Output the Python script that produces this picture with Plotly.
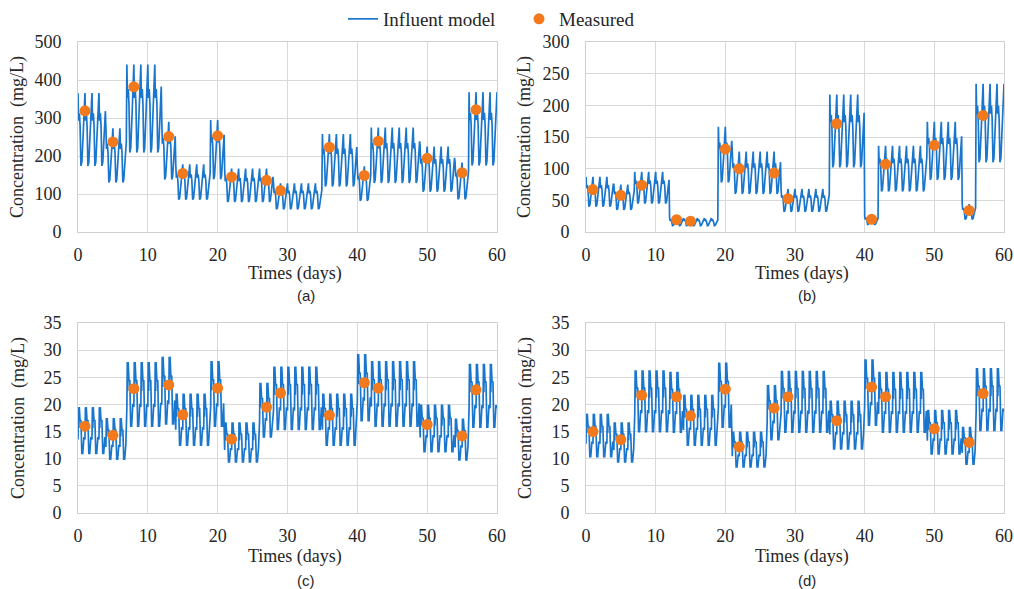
import plotly.graph_objects as go
from plotly.subplots import make_subplots

# ---------------- data ----------------
meas_days = [1, 5, 8, 13, 15, 20, 22, 27, 29, 36, 41, 43, 50, 55, 57]

meas_a = [319, 237, 382, 251, 154, 253, 145, 136, 109, 223, 149, 239, 194, 156, 322]
meas_b = [67, 58, 74, 19.5, 17, 131, 100, 93, 52.6, 171, 20, 107, 137, 34, 184]
meas_c = [16.0, 14.3, 22.9, 23.6, 18.1, 23.0, 13.6, 19.5, 22.1, 18.0, 24.0, 23.0, 16.3, 14.2, 22.7]
meas_d = [15.0, 13.5, 21.7, 21.4, 17.9, 22.8, 12.2, 19.3, 21.4, 17.0, 23.2, 21.4, 15.5, 13.0, 22.0]

# influent model: piecewise levels (segment start day, daily high, daily low)
seg_start_a = [0, 4, 7, 12, 14, 19, 21, 28, 35, 40, 42, 49, 54, 56]
seg_high_a = [366, 273, 441, 290, 178, 295, 167, 128, 258, 173, 275, 225, 183, 368]
seg_low_a = [174, 130, 209, 138, 85, 139, 79, 60, 120, 82, 129, 106, 86, 175]

seg_start_b = [0, 4, 7, 12, 19, 21, 28, 35, 40, 42, 49, 54, 56]
seg_high_b = [87, 75, 95, 22, 166, 127, 68, 217, 25, 136, 174, 44, 234]
seg_low_b = [40, 35, 45, 10, 78, 60, 32, 102, 12, 64, 82, 20, 110]

seg_start_c = [0, 4, 7, 12, 14, 19, 21, 26, 28, 35, 40, 42, 49, 54, 56]
seg_high_c = [19.5, 17.5, 27.8, 28.8, 22.0, 28.0, 16.7, 24.0, 27.0, 22.0, 29.3, 28.0, 20.0, 17.4, 27.5]
seg_low_c = [11.0, 9.9, 16.0, 16.4, 12.5, 16.0, 9.4, 14.0, 15.4, 12.5, 17.0, 16.0, 11.3, 9.8, 15.8]

seg_start_d = [0, 4, 7, 12, 14, 19, 21, 26, 28, 35, 40, 42, 49, 54, 56]
seg_high_d = [18.3, 16.7, 26.3, 26.0, 21.8, 27.7, 15.0, 23.6, 26.2, 20.7, 28.3, 26.0, 19.0, 15.9, 26.7]
seg_low_d = [10.4, 9.4, 15.0, 14.9, 12.5, 15.8, 8.5, 13.5, 14.9, 11.8, 16.2, 14.9, 10.9, 9.0, 15.2]

# diurnal shape of one day (fraction of day, fraction between low and high)
shape_t_ab = [0.0, 0.08, 0.2, 0.3, 0.42, 0.55, 0.75, 0.92]
shape_f_ab = [1.0, 0.62, 0.72, 0.55, 0.0, 0.05, 0.45, 0.75]
shape_t_cd = [0.0, 0.06, 0.12, 0.18, 0.3, 0.42, 0.55, 0.68, 0.85]
shape_f_cd = [0.3, 1.0, 0.55, 1.0, 0.7, 0.72, 0.0, 0.0, 0.35]

N_DAYS = 60


def build_line(starts, highs, lows, st, sf):
    xs, ys = [], []
    for day in range(N_DAYS):
        k = max(i for i, s in enumerate(starts) if s <= day)
        lo, hi = lows[k], highs[k]
        for t, f in zip(st, sf):
            xs.append(day + t)
            ys.append(lo + f * (hi - lo))
    k = len(starts) - 1
    xs.append(N_DAYS)
    ys.append(lows[k] + sf[0] * (highs[k] - lows[k]))
    return xs, ys


panels = [
    (seg_start_a, seg_high_a, seg_low_a, shape_t_ab, shape_f_ab, meas_a, 1, 1, [0, 500], 100),
    (seg_start_b, seg_high_b, seg_low_b, shape_t_ab, shape_f_ab, meas_b, 1, 2, [0, 300], 50),
    (seg_start_c, seg_high_c, seg_low_c, shape_t_cd, shape_f_cd, meas_c, 2, 1, [0, 35], 5),
    (seg_start_d, seg_high_d, seg_low_d, shape_t_cd, shape_f_cd, meas_d, 2, 2, [0, 35], 5),
]

BLUE = "#1a76cc"
ORANGE = "#f27a1c"
SERIF = "Liberation Serif, Times New Roman, serif"
TXT = "#262626"

W, H = 1014, 589


def px(x):
    return x / W


def py(y):
    return 1 - y / H


fig = make_subplots(rows=2, cols=2)

for i, (st, hi, lo, tt, ff, meas, r, c, yr, dt) in enumerate(panels):
    xs, ys = build_line(st, hi, lo, tt, ff)
    fig.add_trace(go.Scatter(x=xs, y=ys, mode="lines", name="Influent model",
                             line=dict(color=BLUE, width=1.7),
                             showlegend=(i == 0), legendrank=1), row=r, col=c)
    fig.add_trace(go.Scatter(x=meas_days, y=meas, mode="markers", name="Measured",
                             marker=dict(color=ORANGE, size=11),
                             showlegend=(i == 0), legendrank=2), row=r, col=c)
    fig.update_yaxes(range=yr, dtick=dt, row=r, col=c)

xdom_l = [px(78), px(497)]
xdom_r = [px(586), px(1004)]
ydom_t = [py(232), py(42)]
ydom_b = [py(513), py(323)]

fig.update_xaxes(range=[0, 60], dtick=10, showgrid=True, gridcolor="#d9d9d9", gridwidth=1,
                 showline=True, linecolor="#d0d0d0", linewidth=1, mirror=True,
                 zeroline=False, ticks="", ticklabelstandoff=6, automargin=False,
                 tickfont=dict(family=SERIF, size=18, color=TXT))
fig.update_yaxes(showgrid=True, gridcolor="#d9d9d9", gridwidth=1,
                 showline=True, linecolor="#d0d0d0", linewidth=1, mirror=True,
                 zeroline=False, ticks="", ticklabelstandoff=12, automargin=False,
                 tickfont=dict(family=SERIF, size=18, color=TXT))

fig.update_layout(
    xaxis=dict(domain=xdom_l), yaxis=dict(domain=ydom_t),
    xaxis2=dict(domain=xdom_r), yaxis2=dict(domain=ydom_t),
    xaxis3=dict(domain=xdom_l), yaxis3=dict(domain=ydom_b),
    xaxis4=dict(domain=xdom_r), yaxis4=dict(domain=ydom_b),
)

annotations = []
for xc, ymid, ylab, lab in [
    (295, 274, 137, "(a)"), (802, 274, 137, "(b)"),
    (295, 556, 418, "(c)"), (802, 556, 418, "(d)"),
]:
    annotations.append(dict(text="Times (days)", x=px(xc), y=py(ymid), xref="paper", yref="paper",
                            xanchor="center", yanchor="middle", showarrow=False,
                            font=dict(family=SERIF, size=18, color=TXT)))
    lx = 18 if xc < 500 else 525
    annotations.append(dict(text="Concentration  (mg/L)", x=px(lx), y=py(ylab), xref="paper", yref="paper",
                            xanchor="center", yanchor="middle", showarrow=False, textangle=-90,
                            font=dict(family=SERIF, size=18, color=TXT)))
    lpx = 306 if xc < 500 else 807
    lpy = 295 if ymid < 300 else 580
    annotations.append(dict(text=lab, x=px(lpx), y=py(lpy), xref="paper", yref="paper",
                            xanchor="center", yanchor="middle", showarrow=False,
                            font=dict(family="Liberation Sans, Arial, sans-serif", size=15, color=TXT)))

fig.update_layout(
    width=W, height=H,
    margin=dict(l=0, r=0, t=0, b=0),
    paper_bgcolor="white", plot_bgcolor="white",
    annotations=annotations,
    legend=dict(orientation="h", x=px(343), xanchor="left", y=1.0, yanchor="top",
                font=dict(family=SERIF, size=19, color=TXT), itemwidth=30, entrywidth=131,
                bgcolor="rgba(0,0,0,0)", tracegroupgap=0),
)

fig.write_html("out.html", config={"displayModeBar": False},
               post_script="document.body.style.margin='0px';")
